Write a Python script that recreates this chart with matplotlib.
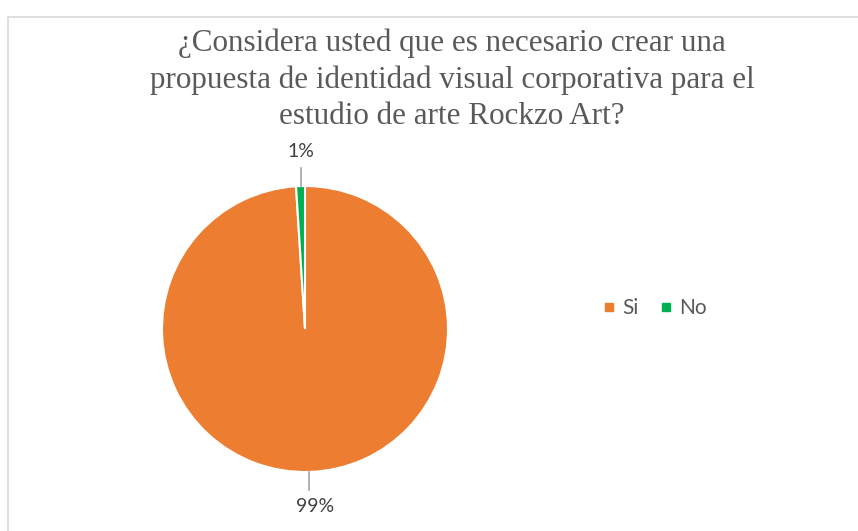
import numpy as np
import matplotlib.pyplot as plt
from matplotlib.patches import Rectangle
from matplotlib.lines import Line2D

# data
categories = ['Si', 'No']
values = [99, 1]
colors = ['#ED7D31', '#00B050']
title = ('¿Considera usted que es necesario crear una\n'
         'propuesta de identidad visual corporativa para el\n'
         'estudio de arte Rockzo Art?')

W, H = 858, 531
fig = plt.figure(figsize=(W / 100, H / 100), dpi=100)

# chart frame (runs off right and bottom edges)
fig.patches.append(Rectangle((8 / W, -0.05), 1.1, 1.05 - 17 / H, transform=fig.transFigure,
                             fill=False, edgecolor='#D9D9D9', linewidth=1.2))

fig.text(452 / W, 1 - 80 / H, title, ha='center', va='center', fontsize=22.4,
         family='Liberation Serif', color='#595959', linespacing=1.33)

# pie axes: centre (305, 329) px, radius 143 px
cx, cy, r = 305, 329, 143
ax = fig.add_axes([(cx - r) / W, (H - cy - r) / H, 2 * r / W, 2 * r / H])
wedges, _ = ax.pie(values, colors=colors, startangle=90, counterclock=False,
                   wedgeprops=dict(edgecolor='white', linewidth=1.5))
ax.set_xlim(-1, 1)
ax.set_ylim(-1, 1)
ax.set_aspect('auto')
ax.axis('off')

total = sum(values)
for w, v in zip(wedges, values):
    ang = np.deg2rad((w.theta1 + w.theta2) / 2)
    x = np.cos(ang)
    s = np.sign(np.sin(ang))
    ax.plot([x, x], [s * 1.0, s * 1.125], color='#A6A6A6', lw=1.2, clip_on=False)
    # Excel nudges the lower label a little right of its leader line
    tx = x + (0.04 if s < 0 else 0)
    ax.text(tx, s * 1.24, f'{v / total:.0%}', ha='center', va='center', fontsize=14,
            family='Lato', color='#404040', clip_on=False)

handles = [Line2D([], [], marker='s', ls='none', color=c, markersize=5.5) for c in colors]
fig.legend(handles, categories, loc='center', bbox_to_anchor=(654 / W, 1 - 308 / H), ncol=2,
           frameon=False, prop={'family': 'Lato', 'size': 15}, labelcolor='#595959',
           handlelength=0.8, handletextpad=0.25, columnspacing=0.9)

fig.savefig('out.png', dpi=100)
